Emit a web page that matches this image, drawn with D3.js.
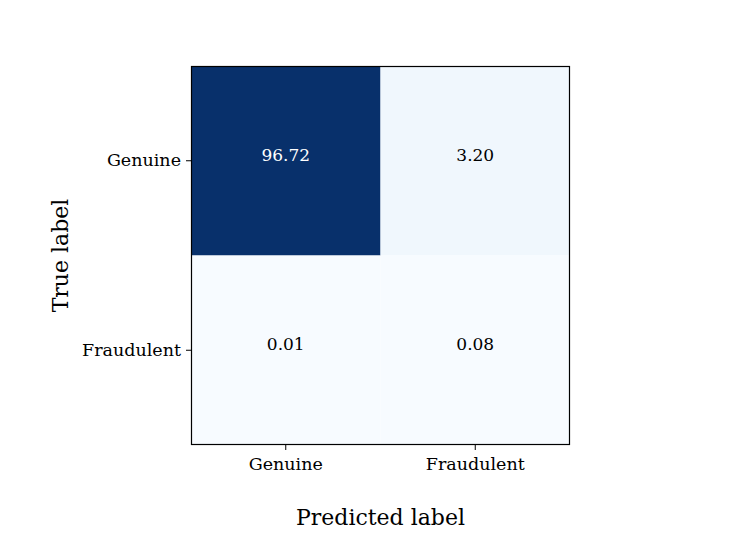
<!DOCTYPE html>
<html>
<head>
<meta charset="utf-8">
<script src="https://cdn.jsdelivr.net/npm/d3@7"></script>
<style>
  body { margin: 0; background: #fff; }
  svg text { font-family: "DejaVu Serif", serif; fill: #000; }
</style>
</head>
<body>
<div id="chart"></div>
<script>
// Confusion matrix (percent)
const trueLabels = ["Genuine", "Fraudulent"];
const predLabels = ["Genuine", "Fraudulent"];
const values = [
  [96.72, 3.20],
  [0.01, 0.08]
];

const width = 743, height = 557;
const margin = { top: 66, left: 191 };
const size = 379;

const svg = d3.select("#chart")
  .append("svg")
    .attr("width", width)
    .attr("height", height);

const g = svg.append("g")
  .attr("transform", `translate(${margin.left}, ${margin.top})`);

const x = d3.scaleBand().domain(predLabels).range([0, size]);
const y = d3.scaleBand().domain(trueLabels).range([0, size]);

const flat = values.flat();
const vmin = d3.min(flat), vmax = d3.max(flat);
const color = d3.scaleSequential(d3.interpolateBlues).domain([vmin, vmax]);
const thresh = (vmin + vmax) / 2;

const cells = trueLabels.flatMap((t, i) =>
  predLabels.map((p, j) => ({ t, p, v: values[i][j] })));

g.selectAll(".cell")
  .data(cells)
  .join("rect")
    .attr("class", "cell")
    .attr("x", d => x(d.p))
    .attr("y", d => y(d.t))
    .attr("width", x.bandwidth())
    .attr("height", y.bandwidth())
    .attr("fill", d => color(d.v));

g.selectAll(".val")
  .data(cells)
  .join("text")
    .attr("class", "val")
    .attr("x", d => x(d.p) + x.bandwidth() / 2)
    .attr("y", d => y(d.t) + y.bandwidth() / 2)
    .attr("text-anchor", "middle")
    .attr("font-size", 17)
    .style("fill", d => d.v > thresh ? "#fff" : "#000")
    .text(d => d.v.toFixed(2));

// axes
const xAxis = g.append("g")
  .attr("transform", `translate(0, ${size})`)
  .call(d3.axisBottom(x).tickSize(5).tickPadding(8));
const yAxis = g.append("g")
  .call(d3.axisLeft(y).tickSize(5).tickPadding(5));

[xAxis, yAxis].forEach(a => {
  a.select(".domain").remove();
  a.selectAll("text").attr("font-size", 17.5);
  a.selectAll("line").attr("stroke", "#000").attr("stroke-width", 1);
});

g.append("rect")
  .attr("x", 0.5).attr("y", 0.5)
  .attr("width", size - 1).attr("height", size - 1)
  .attr("fill", "none")
  .attr("stroke", "#000")
  .attr("stroke-width", 1.2);

svg.append("text")
  .attr("x", margin.left + size / 2)
  .attr("y", 525)
  .attr("text-anchor", "middle")
  .attr("font-size", 22)
  .text("Predicted label");

svg.append("text")
  .attr("transform", `translate(68, ${margin.top + size / 2}) rotate(-90)`)
  .attr("text-anchor", "middle")
  .attr("font-size", 22)
  .text("True label");
</script>
</body>
</html>
